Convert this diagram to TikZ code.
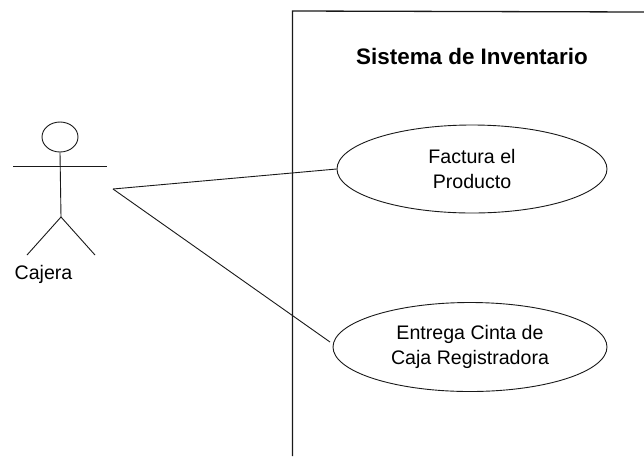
\documentclass[tikz,border=0pt]{standalone}
\usepackage{fontspec}
\setmainfont{Liberation Sans}
\usetikzlibrary{shapes.geometric}
\tikzset{
  ink/.style={draw=black!90,line width=0.9pt},
  usecase/.style={ellipse,ink,inner sep=0pt,align=center,font=\fontsize{19.6}{25}\selectfont},
  lbl/.style={inner sep=0pt,font=\fontsize{19.6}{24}\selectfont},
}
\begin{document}
\begin{tikzpicture}[x=1pt,y=-1pt]
\useasboundingbox (0,0) rectangle (644,456);
\fill[white] (0,0) rectangle (644,456);
\coordinate (b1) at (292.5,11);
\coordinate (b2) at (292.5,456);
\coordinate (b3) at (644,12);
\draw[ink,line width=1.3pt] (b3) -- (b1) -- (b2);
\node[lbl,font=\bfseries\fontsize{22.4}{26}\selectfont] (title) at (472,56) {Sistema de Inventario};
\node[usecase,minimum width=270pt,minimum height=88pt] (uc1) at (472,169) {Factura el\\Producto};
\node[usecase,minimum width=274pt,minimum height=89pt] (uc2) at (470,347) {Entrega Cinta de\\Caja Registradora};
\node[ellipse,ink,minimum width=36pt,minimum height=30pt,inner sep=0pt] (head) at (60,137) {};
\coordinate (armL) at (13,166);
\coordinate (armR) at (107,166);
\coordinate (hip) at (61,217);
\coordinate (footL) at (27,255);
\coordinate (footR) at (95,255);
\coordinate (hub) at (113,189);
\coordinate (end2) at (330,342);
\draw[ink] (head.south) -- (hip);
\draw[ink] (armL) -- (armR);
\draw[ink] (footL) -- (hip) -- (footR);
\node[lbl] (actor) at (43.5,274) {Cajera};
\draw[ink] (hub) -- (uc1.west);
\draw[ink] (hub) -- (end2);
\end{tikzpicture}
\end{document}
